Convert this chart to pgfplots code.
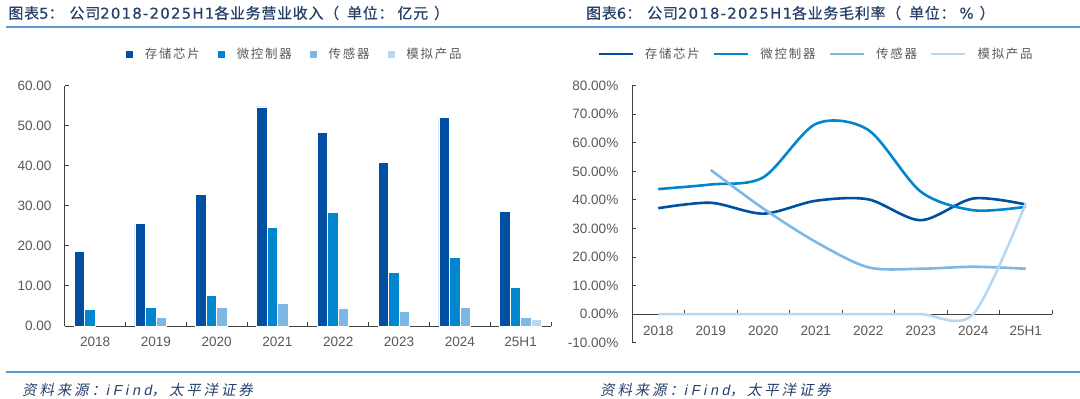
\documentclass[border=0pt]{standalone}
\usepackage{fontspec}
\usepackage{pgfplots}
\pgfplotsset{compat=1.18}
\setmainfont{Liberation Sans}
\newfontfamily\cjkt{Noto Sans CJK SC}[LetterSpace=5,FakeBold=0.6]
\newfontfamily\latt{DejaVu Sans}[LetterSpace=8,FakeBold=0.3]
\newfontfamily\cjkl{Noto Sans CJK SC}[LetterSpace=14]
\newfontfamily\cjks{Noto Sans CJK SC}[FakeSlant=0.2,LetterSpace=20]
\newfontfamily\lats{Liberation Sans}[FakeSlant=0.2,LetterSpace=25]
\definecolor{cA}{RGB}{0,79,163}
\definecolor{cB}{RGB}{0,134,206}
\definecolor{cC}{RGB}{125,184,229}
\definecolor{cD}{RGB}{184,216,242}
\definecolor{lineblue}{RGB}{91,155,213}
\definecolor{titleblue}{RGB}{38,64,104}
\definecolor{tickgray}{RGB}{89,89,89}
\definecolor{axisgray}{RGB}{64,64,64}

\pgfplotstableread{
x storage mcu
0 18.55 4.2
1 25.7 4.6
2 32.9 7.7
3 54.7 24.7
4 48.4 28.4
5 40.9 13.3
6 52.1 17.2
7 28.6 9.7
}\revenue
\pgfplotstableread{
x sensor
1 2.2
2 4.7
3 5.6
4 4.5
5 3.7
6 4.7
7 2.1
}\revsensor
\pgfplotstableread{
x analog
7 1.7
}\revanalog
\pgfplotstableread{
x storage mcu analog
0 37.1 43.8 0
1 39.0 45.4 0
2 35.2 47.9 0
3 39.7 66.6 0
4 40.2 64.5 0
5 32.9 42.9 0
6 40.5 36.4 0
7 38.4 37.6 38.8
}\margin
\pgfplotstableread{
x sensor
1 50.5
2 37.0
3 25.3
4 16.4
5 15.9
6 16.6
7 15.9
}\marginsensor

\begin{document}
\begin{tikzpicture}
\useasboundingbox (0,0) rectangle (1080bp,399bp);
% titles
\node[anchor=west, inner sep=0pt, text=titleblue, font=\fontsize{15}{17}\selectfont] at (8.3bp,386bp)
 {{\cjkt 图表}{\latt 5}{\cjkt ：}\hspace{6bp}{\cjkt 公司}{\latt 2018-2025H1}{\cjkt 各业务营业收入（}\hspace{8bp}{\cjkt 单位：}\hspace{4bp}{\cjkt 亿元}\hspace{6bp}{\cjkt ）}};
\node[anchor=west, inner sep=0pt, text=titleblue, font=\fontsize{15}{17}\selectfont] at (586bp,386bp)
 {{\cjkt 图表}{\latt 6}{\cjkt ：}\hspace{6bp}{\cjkt 公司}{\latt 2018-2025H1}{\cjkt 各业务毛利率（}\hspace{8bp}{\cjkt 单位：}\hspace{4bp}{\latt \%}\hspace{6bp}{\cjkt ）}};
\draw[lineblue, line width=2.2bp] (6bp,372bp) -- (1080bp,372bp);
\draw[lineblue, line width=2.2bp] (6bp,27bp) -- (1080bp,27bp);
\node[anchor=west, inner sep=0pt, text=titleblue, font=\fontsize{14.5}{16}\selectfont] at (22bp,9bp)
 {{\cjks 资料来源：}{\lats iFind}{\cjks ，太平洋证券}};
\node[anchor=west, inner sep=0pt, text=titleblue, font=\fontsize{14.5}{16}\selectfont] at (600bp,9bp)
 {{\cjks 资料来源：}{\lats iFind}{\cjks ，太平洋证券}};

% left chart
\begin{axis}[
 at={(64.7bp,73bp)}, anchor=south west, scale only axis,
 width=486.3bp, height=240.3bp,
 xmin=-0.5, xmax=7.5, ymin=0, ymax=60,
 axis lines=left, axis line style={axisgray, line width=0.9bp, -},
 ybar=0pt, bar width=10.5bp,
 xtick={0.5,1.5,...,7.5}, xticklabels={},
 extra x ticks={0,1,...,7},
 extra x tick labels={2018,2019,2020,2021,2022,2023,2024,25H1},
 extra x tick style={major tick length=0pt},
 ytick={0,10,...,60},
 tick align=inside, major tick length=4bp,
 tick style={axisgray, line width=0.9bp},
 /pgf/number format/assume math mode=true,
 yticklabel={\pgfmathprintnumber[fixed,fixed zerofill,precision=2]{\tick}},
 ticklabel style={font=\fontsize{13.6}{15}\selectfont, text=tickgray},
 y tick label style={anchor=east, inner sep=0pt, xshift=-13bp},
 x tick label style={anchor=north, inner sep=0pt, yshift=-10.8bp},
 clip=false,
 legend columns=4,
 legend image code/.code={\fill[#1] (0bp,-4bp) rectangle (8bp,4bp);},
 legend style={at={(0.1234,1.1319)}, anchor=west, draw=none, fill=none, inner sep=0pt,
   font=\fontsize{12.5}{14}\selectfont\cjkl, text=tickgray,
   nodes={inner sep=0pt},
   /tikz/every odd column/.append style={column sep=11.4bp},
   /tikz/every even column/.append style={column sep=17bp}},
]
\addplot[fill=cA, draw=white, line width=0.5bp] table[x=x, y=storage] {\revenue};
\addplot[fill=cB, draw=white, line width=0.5bp] table[x=x, y=mcu] {\revenue};
\addplot[fill=cC, draw=white, line width=0.5bp] table[x=x, y=sensor] {\revsensor};
\addplot[fill=cD, draw=white, line width=0.5bp] table[x=x, y=analog] {\revanalog};
\legend{存储芯片,微控制器,传感器,模拟产品}
\end{axis}

% right chart
\begin{axis}[
 at={(632bp,56.3bp)}, anchor=south west, scale only axis,
 width=420bp, height=257bp,
 xmin=-0.5, xmax=7.5, ymin=-10, ymax=80,
 axis x line=middle, axis y line=left,
 axis line style={axisgray, line width=0.9bp, -},
 xtick={0.5,1.5,...,7.5}, xticklabels={},
 extra x ticks={0,1,...,7},
 extra x tick labels={2018,2019,2020,2021,2022,2023,2024,25H1},
 extra x tick style={major tick length=0pt},
 ytick={-10,0,...,80},
 tick align=inside, major tick length=4bp,
 tick style={axisgray, line width=0.9bp},
 /pgf/number format/assume math mode=true,
 yticklabel={\pgfmathprintnumber[fixed,fixed zerofill,precision=2]{\tick}\%},
 ticklabel style={font=\fontsize{13.6}{15}\selectfont, text=tickgray},
 y tick label style={anchor=east, inner sep=0pt, xshift=-13.5bp},
 x tick label style={anchor=north, inner sep=0pt, yshift=-11.9bp},
 clip=false,
 legend columns=4,
 legend image code/.code={\draw[#1, sharp plot] (0bp,0bp) -- (34bp,0bp);},
 legend style={at={(-0.0833,1.1233)}, anchor=west, draw=none, fill=none, inner sep=0pt,
   font=\fontsize{12.5}{14}\selectfont\cjkl, text=tickgray,
   nodes={inner sep=0pt},
   /tikz/every odd column/.append style={column sep=11bp},
   /tikz/every even column/.append style={column sep=13bp}},
]
\addplot[cA, line width=2.6bp, smooth, tension=0.5] table[x=x, y=storage] {\margin};
\addplot[cB, line width=2.6bp, smooth, tension=0.5] table[x=x, y=mcu] {\margin};
\addplot[cC, line width=2.6bp, smooth, tension=0.5] table[x=x, y=sensor] {\marginsensor};
\addplot[cD, line width=2.6bp, smooth, tension=0.5] table[x=x, y=analog] {\margin};
\legend{存储芯片,微控制器,传感器,模拟产品}
\end{axis}
\end{tikzpicture}
\end{document}
